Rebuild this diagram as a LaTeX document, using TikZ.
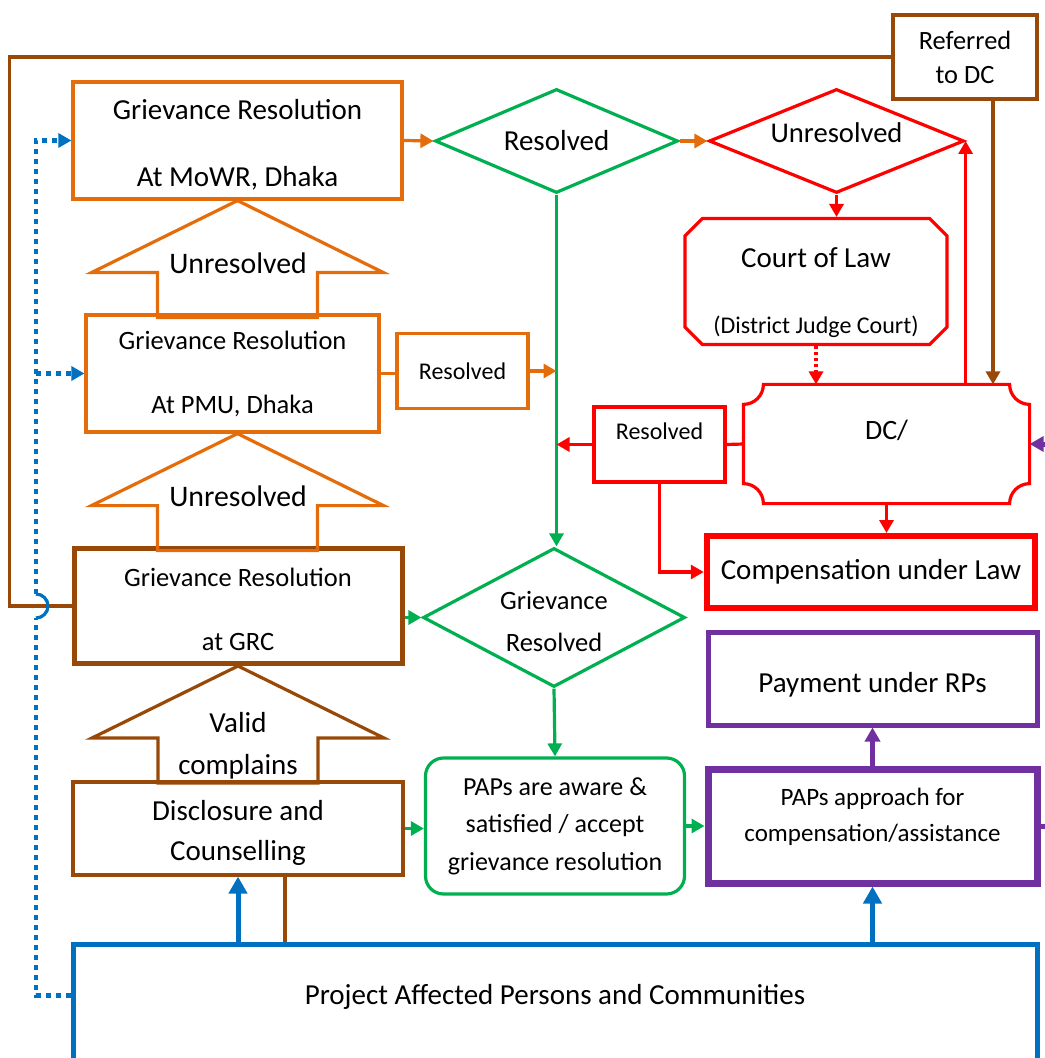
\documentclass[tikz,border=0pt]{standalone}
\usepackage{fontspec}
\setmainfont{Carlito}
\usepackage{xcolor}
\usepackage{tikz}
\usetikzlibrary{positioning}
\usetikzlibrary{arrows.meta}
\usetikzlibrary{shapes.geometric}
\usetikzlibrary{shapes.misc}
\definecolor{grorange}{HTML}{E46C0A}
\definecolor{grgreen}{HTML}{00B050}
\definecolor{grbrown}{HTML}{984807}
\definecolor{grpurple}{HTML}{7030A0}
\definecolor{grblue}{HTML}{0070C0}
\newcommand{\grfont}[2]{\fontsize{#1}{#2}\selectfont}
\tikzset {
  % plain boxes
  box/.style = {draw, rectangle, align=center, inner sep=0pt},
  orangebox/.style = {box, draw=grorange, line width=1.6pt},
  brownbox/.style = {box, draw=grbrown, line width=1.6pt},
  redbox/.style = {box, draw=red, line width=1.6pt},
  purplebox/.style = {box, draw=grpurple, line width=2.5pt},
  greenbox/.style = {box, draw=grgreen, line width=1.6pt, rounded corners=9pt},
  bluebox/.style = {box, draw=grblue, line width=2.5pt},
  % decision diamonds
  decision/.style = {draw, diamond, align=center, inner sep=0pt, line width=1.6pt},
  % big hollow arrows between the levels
  upblock/.pic = {
    \path[pic actions] (0,0) -- (146,72) -- (80,72) -- (80,117)
      -- (-80,117) -- (-80,72) -- (-146,72) -- cycle;
  },
  % connectors
  headtip/.style = {-{Triangle[length=6.5pt, width=7pt]}},
  orangeline/.style = {grorange, line width=1.6pt},
  brownline/.style = {grbrown, line width=1.6pt},
  redline/.style = {red, line width=1.6pt},
  orangearr/.style = {orangeline, headtip},
  brownarr/.style = {brownline, headtip},
  redarr/.style = {redline, headtip},
  greenarr/.style = {grgreen, line width=1.6pt, headtip},
  purplearr/.style = {grpurple, line width=2.5pt, -{Triangle[length=7pt, width=7.5pt]}},
  bluearr/.style = {grblue, line width=2.5pt, -{Triangle[length=8.5pt, width=9pt]}},
  bluedot/.style = {grblue, line width=2.3pt, dash pattern=on 2.3pt off 2.7pt, headtip},
}

\begin{document}
\begin{tikzpicture}[x=0.5pt, y=-0.5pt]
  \useasboundingbox (0,0) rectangle (1044,1058);

  % ministry level
  \node[orangebox, minimum width=164.5pt, minimum height=58.5pt, font=\grfont{14.5}{33.5}] (mowr) at (237.5,140.5) {\rule{0pt}{14.5pt}Grievance Resolution\\At MoWR, Dhaka};
  \node[decision, draw=grgreen, aspect=2.3, minimum width=121.5pt, minimum height=52pt, font=\grfont{14.5}{17}] (res1) at (556.5,141) {Resolved};
  \node[decision, draw=red, aspect=2.45, minimum width=127.5pt, minimum height=52pt, font=\grfont{14.3}{17}, text depth=8pt] (unres) at (836.5,141) {Unresolved};
  \node[brownbox, minimum width=72pt, minimum height=42pt, font=\grfont{13.2}{17}] (refdc) at (965,57) {Referred\\to DC};
  \node[redbox, chamfered rectangle, chamfered rectangle xsep=5.5pt, minimum width=131pt, minimum height=58.5pt, font=\grfont{14.5}{33}] (court) at (816,281.5) {\rule{0pt}{21.5pt}Court of Law\\{\grfont{12}{33}(District Judge Court)}};

  % PMU level
  \node[orangebox, minimum width=146.5pt, minimum height=58.5pt, font=\grfont{13.25}{32}] (pmu) at (232.5,373.5) {Grievance Resolution\\At PMU, Dhaka};
  \node[orangebox, minimum width=65.5pt, minimum height=37.5pt, font=\grfont{12}{14}] (reso) at (462.5,371) {Resolved};
  \node[redbox, draw=none, minimum width=141.5pt, minimum height=58pt, font=\grfont{14}{17}, text depth=14pt] (dc) at (886.5,444) {DC/};
  \node[redbox, minimum width=65.5pt, minimum height=37.5pt, font=\grfont{12}{14}, text depth=13pt] (resr) at (659.5,444.5) {Resolved};

  % GRC level
  \node[brownbox, line width=2.5pt, minimum width=164pt, minimum height=57.5pt, font=\grfont{13.25}{32}] (grc) at (238,606) {\rule{0pt}{13pt}Grievance Resolution\\at GRC};
  \node[decision, draw=grgreen, aspect=1.9, minimum width=131pt, minimum height=69.5pt, font=\grfont{13.25}{21}] (gres) at (554,617.5) {\rule{0pt}{13pt}Grievance\\Resolved};
  \node[redbox, line width=3pt, minimum width=164.25pt, minimum height=36pt, font=\grfont{14.5}{17}] (comp) at (871,572) {Compensation under Law};
  \node[purplebox, minimum width=164.5pt, minimum height=46.5pt, font=\grfont{14.5}{17}, text height=16pt] (pay) at (872.5,678.5) {Payment under RPs};

  % community level
  \node[brownbox, minimum width=165pt, minimum height=46.5pt, font=\grfont{14.5}{20}] (disc) at (238,828.5) {\rule{0pt}{14.5pt}Disclosure and\\Counselling};
  \node[greenbox, minimum width=129.5pt, minimum height=68pt, font=\grfont{13}{18.75}] (aware) at (555,826) {PAPs are aware \&\\satisfied / accept\\grievance resolution};
  \node[purplebox, line width=3.5pt, minimum width=164.5pt, minimum height=57pt, font=\grfont{12.5}{18}] (appr) at (872.5,826) {PAPs approach for\\compensation/assistance\rule[-11pt]{0pt}{11pt}};
  \node[bluebox, minimum width=482pt, minimum height=63pt, font=\grfont{14.5}{17}, text depth=12.8pt] (papc) at (555,1007) {Project Affected Persons and Communities};

  % hollow arrows
  \pic[draw=grorange, line width=1.6pt] at (mowr.south) {upblock};
  \pic[draw=grorange, line width=1.6pt] at (mowr.south |- pmu.south) {upblock};
  \pic[draw=grbrown, line width=1.6pt] at (grc.south) {upblock};
  \node[font=\grfont{14.9}{18}] (unres1) at (238,263) {Unresolved};
  \node[font=\grfont{14.9}{18}] (unres2) at (238,496) {Unresolved};
  \node[font=\grfont{14.5}{21}, align=center] (valid) at (238,746) {Valid\\complains};

  % DC box with scooped corners
  \draw[redline] ([shift={(20,0)}]dc.north west) -- ([shift={(-20,0)}]dc.north east)
    arc[start angle=180, end angle=90, radius=20] -- ([shift={(0,-20)}]dc.south east)
    arc[start angle=270, end angle=180, radius=20] -- ([shift={(20,0)}]dc.south west)
    arc[start angle=0, end angle=-90, radius=20] -- ([shift={(0,20)}]dc.north west)
    arc[start angle=90, end angle=0, radius=20] -- cycle;

  % connectors
  \draw[orangearr] (mowr.east) -- (res1.west);
  \draw[orangearr] (res1.east) -- (unres.west);
  \draw[redarr] (unres.south) -- (unres.south |- court.north);
  \draw[redarr, dash pattern=on 1.5pt off 1.5pt] (court.south) -- (court.south |- dc.north);
  \draw[redarr] (dc.north -| unres.east) -- (unres.east);
  \draw[brownarr] ([xshift=14pt]refdc.south) -- ([xshift=14pt]refdc.south |- dc.north);
  \draw[brownline] (grc.west) -- ++(-62,0) |- (refdc.west);
  \draw[greenarr] (res1.south) -- (res1.south |- gres.north);
  \draw[orangeline] (pmu.east) -- (pmu.east -| reso.west);
  \draw[orangearr] (reso.east) -- (reso.east -| res1.south);
  \draw[redline] (dc.west) -- (resr.east);
  \draw[redarr] (resr.west) -- (resr.west -| res1.south);
  \draw[redarr] (resr.south) |- (comp.west);
  \draw[redarr] (dc.south) -- (dc.south |- comp.north);
  \draw[greenarr] (grc.east |- gres.west) -- (gres.west);
  \draw[greenarr] (gres.south) -- (aware.north);
  \draw[greenarr] (disc.east) -- (disc.east -| aware.west);
  \draw[greenarr] (aware.east) -- (appr.west);
  \draw[purplearr] (appr.north) -- (pay.south);
  \draw[purplearr] (appr.east) -- ++(16,0) |- (dc.east);
  \draw[bluearr] (papc.north -| appr.south) -- (appr.south);
  \draw[bluearr] (papc.north -| disc.south) -- (disc.south);
  \draw[brownline] ([xshift=23.5pt]disc.south) -- ([xshift=23.5pt]disc.south |- papc.north);

  % dotted feedback from the communities, hopping over the brown line
  \coordinate (dotx) at (36,0);
  \coordinate (pin) at ([yshift=-27pt]papc.north west);
  \coordinate (hop) at (grc.west -| dotx);
  \draw[bluedot, -] (pin) -- (pin -| dotx) -- ([yshift=-6pt]hop);
  \draw[grblue, line width=1.6pt] ([yshift=-6pt]hop) arc[start angle=90, end angle=-90, radius=12];
  \draw[bluedot] ([yshift=6pt]hop) -- (mowr.west -| dotx) -- (mowr.west);
  \draw[bluedot] (pmu.west -| dotx) -- (pmu.west);
\end{tikzpicture}
\end{document}
